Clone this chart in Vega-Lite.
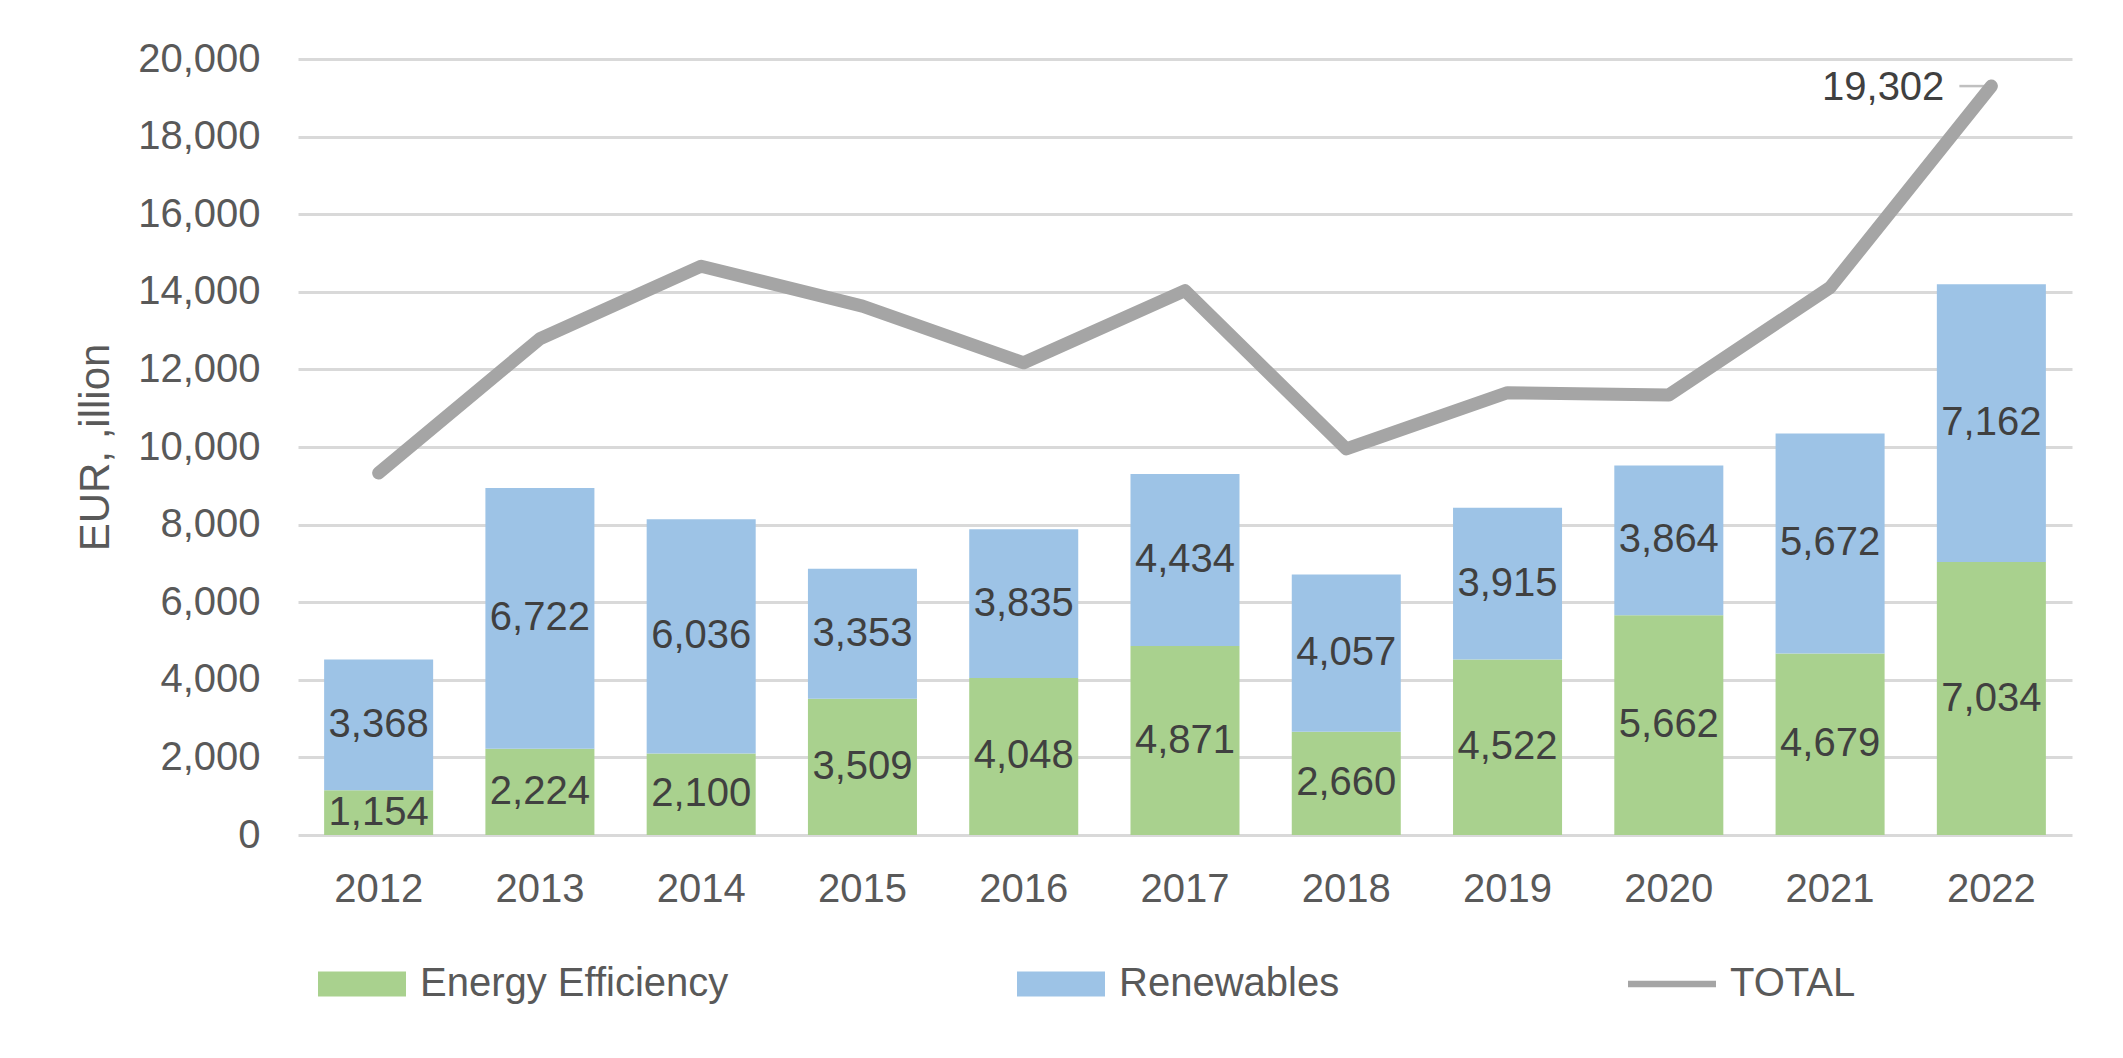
{
  "$schema": "https://vega.github.io/schema/vega-lite/v6.json",
  "width": 1774,
  "height": 776,
  "autosize": {"type": "none"},
  "padding": {"left": 298, "top": 59, "right": 51, "bottom": 223},
  "background": "white",
  "config": {"view": {"stroke": null}, "font": "Liberation Sans"},
  "datasets": {
    "bars": [
      {"year": "2012", "series": "Energy Efficiency", "value": 1154},
      {"year": "2012", "series": "Renewables", "value": 3368},
      {"year": "2013", "series": "Energy Efficiency", "value": 2224},
      {"year": "2013", "series": "Renewables", "value": 6722},
      {"year": "2014", "series": "Energy Efficiency", "value": 2100},
      {"year": "2014", "series": "Renewables", "value": 6036},
      {"year": "2015", "series": "Energy Efficiency", "value": 3509},
      {"year": "2015", "series": "Renewables", "value": 3353},
      {"year": "2016", "series": "Energy Efficiency", "value": 4048},
      {"year": "2016", "series": "Renewables", "value": 3835},
      {"year": "2017", "series": "Energy Efficiency", "value": 4871},
      {"year": "2017", "series": "Renewables", "value": 4434},
      {"year": "2018", "series": "Energy Efficiency", "value": 2660},
      {"year": "2018", "series": "Renewables", "value": 4057},
      {"year": "2019", "series": "Energy Efficiency", "value": 4522},
      {"year": "2019", "series": "Renewables", "value": 3915},
      {"year": "2020", "series": "Energy Efficiency", "value": 5662},
      {"year": "2020", "series": "Renewables", "value": 3864},
      {"year": "2021", "series": "Energy Efficiency", "value": 4679},
      {"year": "2021", "series": "Renewables", "value": 5672},
      {"year": "2022", "series": "Energy Efficiency", "value": 7034},
      {"year": "2022", "series": "Renewables", "value": 7162}
    ],
    "total": [
      {"year": "2012", "series": "TOTAL", "value": 9330},
      {"year": "2013", "series": "TOTAL", "value": 12790},
      {"year": "2014", "series": "TOTAL", "value": 14660},
      {"year": "2015", "series": "TOTAL", "value": 13630},
      {"year": "2016", "series": "TOTAL", "value": 12170},
      {"year": "2017", "series": "TOTAL", "value": 14030},
      {"year": "2018", "series": "TOTAL", "value": 9950},
      {"year": "2019", "series": "TOTAL", "value": 11400},
      {"year": "2020", "series": "TOTAL", "value": 11340},
      {"year": "2021", "series": "TOTAL", "value": 14110},
      {"year": "2022", "series": "TOTAL", "value": 19302}
    ]
  },
  "layer": [
    {
      "data": {"name": "bars"},
      "mark": {"type": "bar"},
      "encoding": {
        "x": {
          "field": "year", "type": "ordinal",
          "scale": {"paddingInner": 0.324, "paddingOuter": 0.162},
          "axis": {"title": null, "labelAngle": 0, "labelFontSize": 40, "labelColor": "#595959", "labelPadding": 34, "ticks": false, "domain": false, "grid": false}
        },
        "y": {
          "field": "value", "type": "quantitative", "stack": "zero",
          "scale": {"domain": [0, 20000], "nice": false},
          "axis": {
            "values": [0, 2000, 4000, 6000, 8000, 10000, 12000, 14000, 16000, 18000, 20000],
            "format": ",.0f",
            "title": "EUR, ,illion",
            "titleFontSize": 42, "titleFontWeight": "normal", "titleColor": "#595959", "titlePadding": 20,
            "labelFontSize": 40, "labelColor": "#595959", "labelPadding": 38,
            "ticks": false, "domain": false, "grid": true, "gridColor": "#D9D9D9", "gridWidth": 3
          }
        },
        "order": {"field": "series", "sort": "ascending"},
        "color": {
          "field": "series", "type": "nominal",
          "scale": {"domain": ["Energy Efficiency", "Renewables", "TOTAL"], "range": ["#A9D18E", "#9DC3E6", "#A5A5A5"]},
          "legend": {
            "title": null, "orient": "none", "legendX": 20, "legendY": 881, "direction": "horizontal",
            "columnPadding": 288, "symbolSize": 7744, "symbolType": "M-1,-0.284H1V0.284H-1Z",
            "labelFontSize": 40, "labelColor": "#595959", "labelOffset": 14, "labelLimit": 0, "padding": 0,
            "encode": {
              "symbols": {
                "update": {
                  "shape": {"signal": "datum.value === 'TOTAL' ? 'M-1,-0.075H1V0.075H-1Z' : 'M-1,-0.284H1V0.284H-1Z'"},
                  "fill": {"signal": "scale('color', datum.value)"},
                  "strokeWidth": {"value": 0},
                  "opacity": {"value": 1},
                  "fillOpacity": {"value": 1}
                }
              }
            }
          }
        }
      }
    },
    {
      "data": {"name": "bars"},
      "mark": {"type": "text", "fontSize": 40, "color": "#404040", "baseline": "middle"},
      "encoding": {
        "x": {"field": "year", "type": "ordinal"},
        "y": {"field": "value", "type": "quantitative", "stack": "zero", "bandPosition": 0.5},
        "detail": {"field": "series"},
        "order": {"field": "series", "sort": "ascending"},
        "text": {"field": "value", "type": "quantitative", "format": ",.0f"}
      }
    },
    {
      "data": {"name": "total"},
      "mark": {"type": "line", "strokeWidth": 13, "strokeCap": "round", "strokeJoin": "round"},
      "encoding": {
        "x": {"field": "year", "type": "ordinal"},
        "y": {"field": "value", "type": "quantitative"},
        "color": {"field": "series", "type": "nominal"}
      }
    },
    {
      "data": {"name": "total"},
      "transform": [{"filter": "datum.year === '2022'"}],
      "mark": {"type": "tick", "orient": "horizontal", "size": 30, "thickness": 2.5, "xOffset": -17, "color": "#A5A5A5"},
      "encoding": {
        "x": {"field": "year", "type": "ordinal"},
        "y": {"field": "value", "type": "quantitative"}
      }
    },
    {
      "data": {"name": "total"},
      "transform": [{"filter": "datum.year === '2022'"}],
      "mark": {"type": "text", "align": "right", "baseline": "middle", "dx": -47, "dy": 2, "fontSize": 40, "color": "#404040"},
      "encoding": {
        "x": {"field": "year", "type": "ordinal"},
        "y": {"field": "value", "type": "quantitative"},
        "text": {"field": "value", "type": "quantitative", "format": ",.0f"}
      }
    }
  ]
}
